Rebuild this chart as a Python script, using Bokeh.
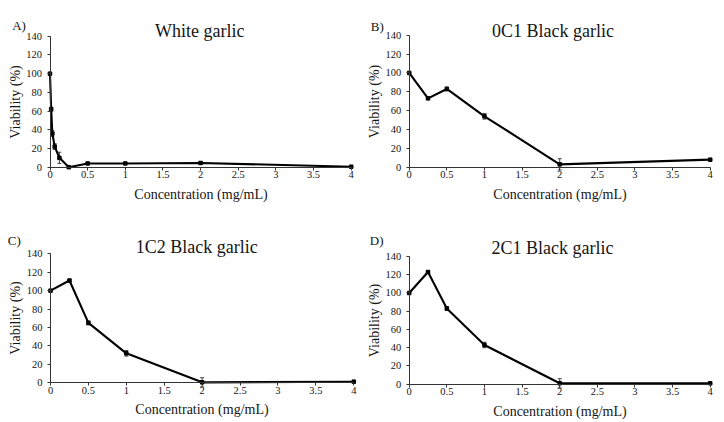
from bokeh.plotting import figure
from bokeh.models import (ColumnDataSource, Range1d, FixedTicker, Label, Whisker)
from bokeh.layouts import gridplot
from bokeh.embed import file_html
from bokeh.resources import INLINE

# ---- data ----
x_ticks = [0, 0.5, 1, 1.5, 2, 2.5, 3, 3.5, 4]
x_tick_labels = ["0", "0.5", "1", "1.5", "2", "2.5", "3", "3.5", "4"]
y_ticks = [0, 20, 40, 60, 80, 100, 120, 140]
y_tick_labels = ["0", "20", "40", "60", "80", "100", "120", "140"]

titles = ["White garlic", "0C1 Black garlic", "1C2 Black garlic", "2C1 Black garlic"]
panel_letters = ["A)", "B)", "C)", "D)"]

white_conc = [0, 0.0156, 0.03125, 0.0625, 0.125, 0.25, 0.5, 1, 2, 4]
white_viab = [100, 62, 36, 22, 10, 0, 4, 4, 4.5, 0.5]
white_err = [0, 2, 3, 3, 6, 1, 1, 1, 1, 0.5]

bg_conc = [0, 0.25, 0.5, 1, 2, 4]
oc1_viab = [100, 73, 83, 54, 3, 8]
oc1_err = [0, 1, 2, 3, 6, 1]
ic2_viab = [100, 111, 65, 32, 0.5, 1.2]
ic2_err = [0, 1, 2, 3, 5, 0.5]
tc1_viab = [100, 123, 83, 43, 1, 1]
tc1_err = [0, 1, 2, 3, 5, 0.5]

series = [
    (white_conc, white_viab, white_err),
    (bg_conc, oc1_viab, oc1_err),
    (bg_conc, ic2_viab, ic2_err),
    (bg_conc, tc1_viab, tc1_err),
]

# ---- layout geometry (page pixels) ----
# figure origin and size
fig_box = [(0, 0, 358, 211), (358, 0, 366, 211), (0, 211, 358, 211), (358, 211, 366, 211)]
# pixel positions of x=0, x=4, y=0, y=140
axis_px = [(49.5, 350.7, 166.7, 35.7), (408.7, 709.7, 166.7, 34.7),
           (50.0, 353.3, 382.3, 253.3), (408.7, 709.7, 383.7, 256.0)]
title_px = [(199.3, 30.7), (552.5, 30.7), (196.2, 246.7), (552.0, 247.7)]
letter_px = [(11.7, 25.0), (370.3, 26.0), (7.3, 240.0), (369.3, 240.3)]

FONT = "Liberation Serif"
TXT = "#151515"

figs = []
for i in range(4):
    xs, ys, es = series[i]
    ox, oy, w_, h_ = fig_box[i]
    x0, x4, y0, y140 = axis_px[i]
    sx = (x4 - x0) / 4.0
    sy = (y0 - y140) / 140.0
    to_x = lambda px: (px - x0) / sx
    to_y = lambda py: (y0 - py) / sy

    p = figure(width=w_, height=h_, output_backend="svg", toolbar_location=None,
               x_range=Range1d(to_x(ox), to_x(ox + w_)),
               y_range=Range1d(to_y(oy + h_), to_y(oy)),
               min_border_left=0, min_border_right=0,
               min_border_top=0, min_border_bottom=0)
    p.outline_line_color = None
    p.grid.visible = False
    p.background_fill_color = "white"
    p.border_fill_color = "white"

    src = ColumnDataSource(dict(x=xs, y=ys,
                                up=[a + b for a, b in zip(ys, es)],
                                lo=[a - b for a, b in zip(ys, es)]))
    w = Whisker(source=src, base="x", upper="up", lower="lo",
                line_color="#444444", line_width=1)
    w.upper_head.size = 4
    w.lower_head.size = 4
    w.upper_head.line_color = "#444444"
    w.lower_head.line_color = "#444444"
    p.add_layout(w)
    p.line("x", "y", source=src, line_color="black", line_width=2.1)
    p.scatter("x", "y", source=src, marker="square", size=3.5,
              fill_color="black", line_color="black")

    for ax in (p.xaxis[0], p.yaxis[0]):
        ax.axis_line_color = "#333333"
        ax.axis_line_width = 1
        ax.major_tick_line_color = "#333333"
        ax.major_tick_out = 3
        ax.major_tick_in = 0
        ax.minor_tick_line_color = None
        ax.major_label_text_font = FONT
        ax.major_label_text_font_size = "10.5px"
        ax.major_label_text_color = TXT
        ax.axis_label_text_font = FONT
        ax.axis_label_text_font_size = "14px"
        ax.axis_label_text_font_style = "normal"
        ax.axis_label_text_color = TXT
        ax.fixed_location = 0
    p.xaxis.bounds = (0, 4)
    p.yaxis.bounds = (0, 140)
    p.xaxis.ticker = FixedTicker(ticks=x_ticks)
    p.xaxis.major_label_overrides = {t: l for t, l in zip(x_ticks, x_tick_labels)}
    p.yaxis.ticker = FixedTicker(ticks=y_ticks)
    p.yaxis.major_label_overrides = {t: l for t, l in zip(y_ticks, y_tick_labels)}
    p.xaxis.axis_label = "Concentration (mg/mL)"
    p.yaxis.axis_label = "Viability (%)"
    p.xaxis.major_label_standoff = 1
    p.yaxis.major_label_standoff = 5
    p.xaxis.axis_label_standoff = 5
    p.yaxis.axis_label_standoff = 1

    tx, ty = title_px[i]
    p.add_layout(Label(x=to_x(tx), y=to_y(ty), text=titles[i], text_font=FONT,
                       text_font_size="18px", text_align="center",
                       text_baseline="alphabetic", text_color=TXT))
    lx, ly = letter_px[i]
    p.add_layout(Label(x=to_x(lx), y=to_y(ly), text=panel_letters[i], text_font=FONT,
                       text_font_size="13px", text_align="left",
                       text_baseline="alphabetic", text_color=TXT))
    figs.append(p)

grid = gridplot([[figs[0], figs[1]], [figs[2], figs[3]]], toolbar_location=None)
open("out.html", "w").write(file_html(grid, INLINE))
